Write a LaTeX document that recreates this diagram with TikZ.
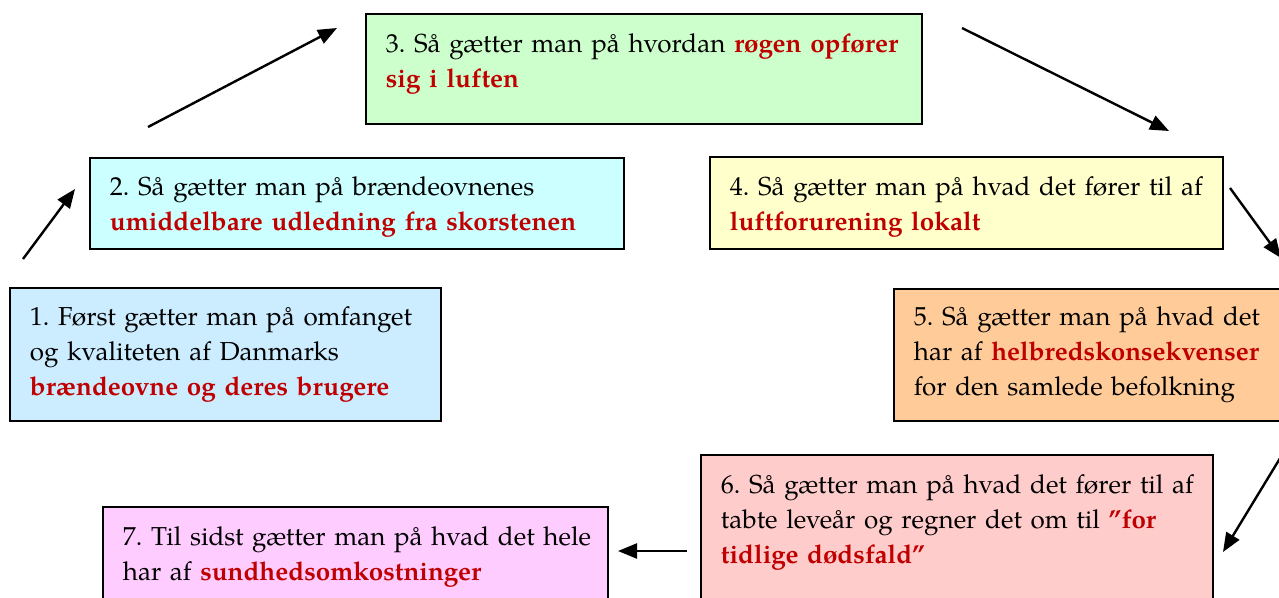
\documentclass[tikz,border=0pt]{standalone}
\usepackage{fontspec}
\setmainfont{TeX Gyre Pagella}
\usetikzlibrary{arrows.meta}
\definecolor{redtxt}{HTML}{C00000}
\definecolor{cThree}{HTML}{CCFFCC}
\definecolor{cTwo}{HTML}{CCFFFF}
\definecolor{cOne}{HTML}{CCECFF}
\definecolor{cFour}{HTML}{FFFFCC}
\definecolor{cFive}{HTML}{FFCC99}
\definecolor{cSix}{HTML}{FFCCCC}
\definecolor{cSeven}{HTML}{FFCCFF}
\newcommand{\hl}[1]{\textcolor{redtxt}{\textbf{#1}}}
\frenchspacing
\hfuzz=200pt
\tikzset{
  stepbox/.style={draw=black, line width=1.8pt, anchor=north west, align=left,
    inner xsep=20pt, inner ysep=0pt,
    font=\fontsize{26}{35}\selectfont\frenchspacing},
  flow/.style={line width=2.4pt, -{Triangle[length=19pt,width=15pt]}}
}
\begin{document}
\begin{tikzpicture}[x=1pt,y=-1pt]
\useasboundingbox (0,0) rectangle (1279,597);
\clip (0,0) rectangle (1279,597);
\node[stepbox, fill=cThree, text width=516pt, minimum height=110pt] (b3) at (365,13)
  {\mbox{3. Så gætter man på hvordan \hl{røgen opfører}}\\\hl{sig i luften}\rule[-17pt]{0pt}{1pt}};
\node[stepbox, fill=cTwo, text width=494pt, minimum height=91pt] (b2) at (89,157)
  {\rule{0pt}{27pt}\mbox{2. Så gætter man på brændeovnenes}\\\mbox{\hl{umiddelbare udledning fra skorstenen}}};
\node[stepbox, fill=cOne, text width=391pt, minimum height=133pt] (b1) at (9,287)
  {\mbox{1. Først gætter man på omfanget}\\og kvaliteten af Danmarks\\\mbox{\hl{brændeovne og deres brugere}}};
\node[stepbox, fill=cFour, text width=473pt, minimum height=92pt] (b4) at (709,156)
  {\rule{0pt}{27pt}\mbox{4. Så gætter man på hvad det fører til af}\\\hl{luftforurening lokalt}};
\node[stepbox, fill=cFive, text width=420pt, minimum height=132pt] (b5) at (893,288)
  {\mbox{5. Så gætter man på hvad det}\\\mbox{har af \hl{helbredskonsekvenser}}\\\mbox{for den samlede befolkning}};
\node[stepbox, fill=cSix, text width=472pt, minimum height=162pt] (b6) at (700,454)
  {\mbox{6. Så gætter man på hvad det fører til af}\\\mbox{tabte leveår og regner det om til \hl{”for}}\\\hl{tidlige dødsfald”}\rule[-34pt]{0pt}{1pt}};
\node[stepbox, fill=cSeven, text width=465pt, minimum height=100pt] (b7) at (102,506)
  {\mbox{7. Til sidst gætter man på hvad det hele}\\\mbox{har af \hl{sundhedsomkostninger}}};
\coordinate (a1s) at (23,259);   \coordinate (a1e) at (75,189);
\coordinate (a2s) at (148,127);  \coordinate (a2e) at (337,28);
\coordinate (a3s) at (962,28);   \coordinate (a3e) at (1169,131);
\coordinate (a4s) at (1230,188); \coordinate (a4e) at (1281,258);
\coordinate (a5s) at (1282,455); \coordinate (a5e) at (1223,552);
\coordinate (a6s) at (687,551);  \coordinate (a6e) at (618,551);
\draw[flow] (a1s) -- (a1e);
\draw[flow] (a2s) -- (a2e);
\draw[flow] (a3s) -- (a3e);
\draw[flow] (a4s) -- (a4e);
\draw[flow] (a5s) -- (a5e);
\draw[flow] (a6s) -- (a6e);
\end{tikzpicture}
\end{document}
